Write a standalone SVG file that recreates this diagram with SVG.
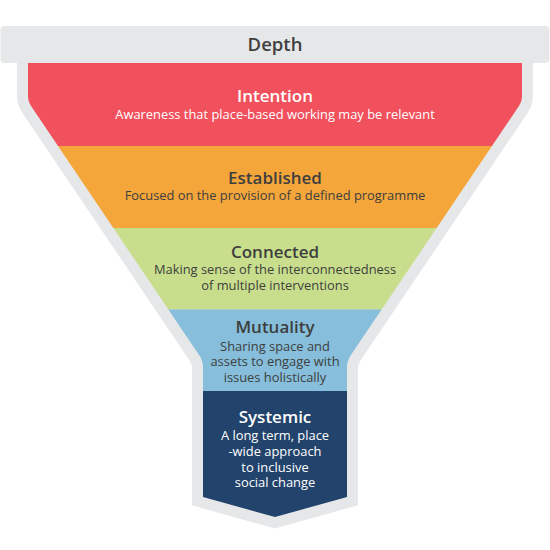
<svg xmlns="http://www.w3.org/2000/svg" width="550" height="550" viewBox="0 0 550 550">
  <defs>
    <clipPath id="funnelClip">
      <path d="M28,63 L28,96 Q28,101.6 31.7,107 L199.1,355 Q203,360.8 203,367 L203,497 L275,517 L347,497 L347,367 Q347,360.8 350.9,355 L518.3,107 Q522,101.6 522,96 L522,63 Z"/>
    </clipPath>
    <style>
      .title { font-family: "Open Sans", "Noto Sans", sans-serif; font-size: 17px; font-weight: 600; text-anchor: middle; }
      .sub { font-family: "Open Sans", "Noto Sans", sans-serif; font-size: 12.9px; font-weight: 400; text-anchor: middle; }
      .light { fill: #ffffff; }
      .dark { fill: #3e3e3e; }
    </style>
  </defs>
  <rect width="550" height="550" fill="#ffffff"/>
  <!-- gray funnel outline -->
  <path d="M28,63 L28,96 Q28,101.6 31.7,107 L199.1,355 Q203,360.8 203,367 L203,497 L275,517 L347,497 L347,367 Q347,360.8 350.9,355 L518.3,107 Q522,101.6 522,96 L522,63 Z" fill="#e6e7e8" stroke="#e6e7e8" stroke-width="22" stroke-linejoin="miter"/>
  <g id="header">
    <rect x="0.5" y="26" width="549" height="37" rx="4" fill="#e6e7e8"/>
    <text x="275" y="51" font-family="Open Sans, Noto Sans, sans-serif" font-size="18.5" font-weight="600" fill="#3e3e3e" text-anchor="middle">Depth</text>
  </g>
  <g clip-path="url(#funnelClip)">
    <g id="intention">
      <rect x="0" y="63" width="550" height="83" fill="#f1505d"/>
    </g>
    <g id="established">
      <rect x="0" y="146" width="550" height="82" fill="#f4a63b"/>
    </g>
    <g id="connected">
      <rect x="0" y="228" width="550" height="81.5" fill="#c8de8c"/>
    </g>
    <g id="mutuality">
      <rect x="0" y="309.5" width="550" height="81.5" fill="#86bedb"/>
    </g>
    <g id="systemic">
      <rect x="0" y="391" width="550" height="140" fill="#22436b"/>
    </g>
  </g>
  <g id="intention-text">
    <text class="title light" x="275" y="102">Intention</text>
    <text class="sub light" x="275" y="119">Awareness that place-based working may be relevant</text>
  </g>
  <g id="established-text">
    <text class="title dark" x="275" y="184">Established</text>
    <text class="sub dark" x="275" y="200">Focused on the provision of a defined programme</text>
  </g>
  <g id="connected-text">
    <text class="title dark" x="275" y="258">Connected</text>
    <text class="sub dark" x="275" y="274">Making sense of the interconnectedness</text>
    <text class="sub dark" x="275" y="290">of multiple interventions</text>
  </g>
  <g id="mutuality-text">
    <text class="title dark" x="275" y="333">Mutuality</text>
    <text class="sub dark" x="275" y="350.5">Sharing space and</text>
    <text class="sub dark" x="275" y="366">assets to engage with</text>
    <text class="sub dark" x="275" y="381.5">issues holistically</text>
  </g>
  <g id="systemic-text">
    <text class="title light" x="275" y="423">Systemic</text>
    <text class="sub light" x="275" y="440">A long term, place</text>
    <text class="sub light" x="275" y="456">-wide approach</text>
    <text class="sub light" x="275" y="471.5">to inclusive</text>
    <text class="sub light" x="275" y="487">social change</text>
  </g>
</svg>
